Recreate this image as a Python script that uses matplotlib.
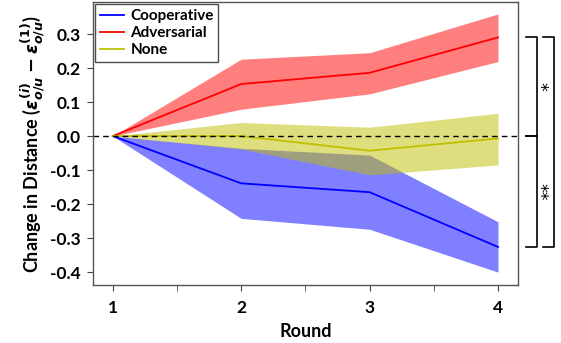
import numpy as np
import matplotlib
matplotlib.use("Agg")
import matplotlib.pyplot as plt
import matplotlib.transforms as mtransforms

# change in distance per round, mean and band (lower / upper)
rounds = [1, 2, 3, 4]
coop_mean = [0.0, -0.139, -0.165, -0.326]
coop_low = [0.0, -0.242, -0.274, -0.400]
coop_high = [0.0, -0.036, -0.056, -0.252]
adv_mean = [0.0, 0.153, 0.186, 0.290]
adv_low = [0.0, 0.079, 0.124, 0.219]
adv_high = [0.0, 0.226, 0.245, 0.359]
none_mean = [0.0, 0.0, -0.043, -0.007]
none_low = [0.0, -0.038, -0.114, -0.085]
none_high = [0.0, 0.040, 0.026, 0.067]

series_names = ["Cooperative", "Adversarial", "None"]
y_ticks = [0.3, 0.2, 0.1, 0.0, -0.1, -0.2, -0.3, -0.4]

# significance brackets (top, bottom) and their stars
brackets_inner = [(adv_mean[-1], 0.0, "*"), (0.0, coop_mean[-1], "**")]
bracket_outer = (adv_mean[-1], coop_mean[-1])

plt.rcParams["font.family"] = ["Lato", "DejaVu Sans"]
plt.rcParams["font.weight"] = "bold"
plt.rcParams["mathtext.fontset"] = "custom"
plt.rcParams["mathtext.it"] = "DejaVu Sans:italic:bold"
plt.rcParams["mathtext.rm"] = "DejaVu Sans:bold"

fig = plt.figure(figsize=(5.61, 3.43), dpi=100)
ax = fig.add_axes([0.1658, 0.169, 0.7576, 0.825])

data = [
    (coop_mean, coop_low, coop_high, "blue"),
    (adv_mean, adv_low, adv_high, "red"),
    (none_mean, none_low, none_high, (0.75, 0.75, 0.0)),
]
for (m, lo, hi, c), name in zip(data, series_names):
    ax.fill_between(rounds, lo, hi, color=c, alpha=0.5, linewidth=0)
    ax.plot(rounds, m, color=c, lw=1.3, label=name)

ax.axhline(0, color="black", ls="--", lw=1, dashes=(4, 3))

ax.set_xlim(0.846, 4.156)
ax.set_ylim(-0.438, 0.394)
ax.set_xticks(rounds)
ax.set_xticks([1.5, 2.5, 3.5], minor=True)
ax.set_yticks(y_ticks)
ax.set_yticklabels([f"{v:.1f}" for v in y_ticks])
ax.tick_params(axis="both", labelsize=12.5, direction="out", length=4, color="#444444")
ax.tick_params(axis="x", which="minor", length=4, color="#444444")
ax.tick_params(axis="x", pad=7)
ax.tick_params(axis="y", pad=5)
for s in ax.spines.values():
    s.set_color("#555555")
    s.set_linewidth(1)

ax.set_xlabel("Round", fontsize=13, fontweight="bold", labelpad=5)
ax.set_ylabel(r"Change in Distance ($\epsilon_{o/u}^{(i)} - \epsilon_{o/u}^{(1)}$)",
              fontsize=13, fontweight="bold", labelpad=1)

leg = ax.legend(loc="upper left", fontsize=11, frameon=True, fancybox=False,
                borderpad=0.3, labelspacing=0.2, handlelength=1.6,
                handletextpad=0.4, borderaxespad=0.15)
leg.get_frame().set_edgecolor("#222222")
leg.get_frame().set_linewidth(1)
for t in leg.get_texts():
    t.set_fontweight("bold")

# brackets to the right of the axes
trans = mtransforms.blended_transform_factory(ax.transAxes, ax.transData)
x0, x1 = 1.019, 1.045
for top, bot, star in brackets_inner:
    ax.plot([x0, x1, x1, x0], [top, top, bot, bot], color="black", lw=1.2,
            transform=trans, clip_on=False)
    ax.text(1.051, (top + bot) / 2, star, transform=trans, ha="center",
            va="center", fontsize=12.5, rotation=-90, family="DejaVu Sans",
            fontweight="normal")
ox0, ox1 = 1.058, 1.085
ax.plot([ox0, ox1, ox1, ox0], [bracket_outer[0], bracket_outer[0],
        bracket_outer[1], bracket_outer[1]], color="black", lw=1.2,
        transform=trans, clip_on=False)

fig.savefig("out.png", dpi=100)
